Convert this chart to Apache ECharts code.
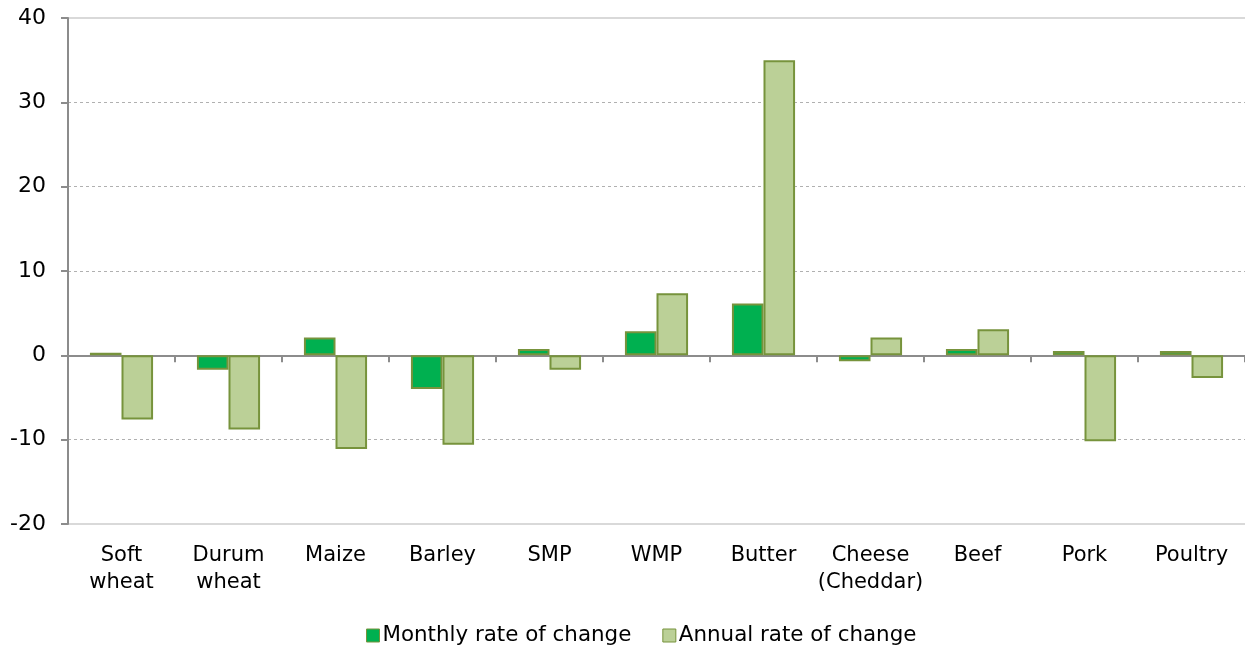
<!DOCTYPE html>
<html>
<head>
<meta charset="utf-8">
<script src="https://cdn.jsdelivr.net/npm/echarts@6/dist/echarts.min.js"></script>
<style>html,body{margin:0;padding:0;background:#fff}#c{width:1245px;height:648px}</style>
</head>
<body>
<div id="c"></div>
<script>
const categories = ['Soft\nwheat','Durum\nwheat','Maize','Barley','SMP','WMP','Butter','Cheese\n(Cheddar)','Beef','Pork','Poultry'];
const monthly = [0.3, -1.7, 2.1, -4.0, 0.75, 2.85, 6.15, -0.7, 0.75, 0.5, 0.5];
const annual = [-7.6, -8.8, -11.1, -10.6, -1.7, 7.35, 35.0, 2.1, 3.1, -10.2, -2.7];
const seriesNames = ['Monthly rate of change', 'Annual rate of change'];

const font = 'Verdana, "DejaVu Sans", sans-serif';
const grid = '#b0b0b0', none = 'rgba(0,0,0,0)';
const chart = echarts.init(document.getElementById('c'));
chart.setOption({
  animation: false,
  grid: { left: 68, right: 0, top: 18, bottom: 124, containLabel: false },
  legend: {
    bottom: 2, left: 366, padding: 0, itemWidth: 13, itemHeight: 13, itemGap: 31,
    textStyle: { fontFamily: font, fontSize: 21.4, color: '#000', padding: [0,0,0,-2] },
    data: [
      { name: seriesNames[0], icon: 'rect', itemStyle: { color: '#00B050', borderColor: '#77933C', borderWidth: 1 } },
      { name: seriesNames[1], icon: 'rect', itemStyle: { color: '#BBD097', borderColor: '#77933C', borderWidth: 1 } }
    ]
  },
  xAxis: {
    type: 'category', data: categories,
    axisLine: { onZero: true, lineStyle: { color: '#8c8c8c', width: 2 } },
    axisTick: { show: true, length: 7, lineStyle: { color: '#8c8c8c', width: 2 } },
    axisLabel: { fontFamily: font, fontSize: 21, color: '#000', lineHeight: 27, interval: 0, margin: 18 },
    position: 'bottom'
  },
  yAxis: [{
    type: 'value', min: -20, max: 40, interval: 10,
    axisLine: { show: true, lineStyle: { color: '#8c8c8c', width: 2 } },
    axisTick: { show: true, length: 7, lineStyle: { color: '#8c8c8c', width: 2 } },
    axisLabel: { fontFamily: font, fontSize: 22, color: '#000', margin: 22 },
    splitLine: { show: true, lineStyle: { color: [none, grid, grid, grid, grid, grid, none], type: [3, 3], width: 1 } }
  }, {
    type: 'value', min: -20, max: 40, interval: 60, position: 'left',
    axisLine: { show: false }, axisTick: { show: false }, axisLabel: { show: false },
    splitLine: { show: true, lineStyle: { color: '#d9d9d9', type: 'solid', width: 2 } }
  }],
  series: [
    { name: seriesNames[0], type: 'bar', data: monthly, barGap: '0%', barCategoryGap: '41%',
      itemStyle: { color: '#00B050', borderColor: '#77933C', borderWidth: 2 } },
    { name: seriesNames[1], type: 'bar', data: annual, barGap: '0%', barCategoryGap: '41%',
      itemStyle: { color: '#BBD097', borderColor: '#77933C', borderWidth: 2 } }
  ]
});
</script>
</body>
</html>
